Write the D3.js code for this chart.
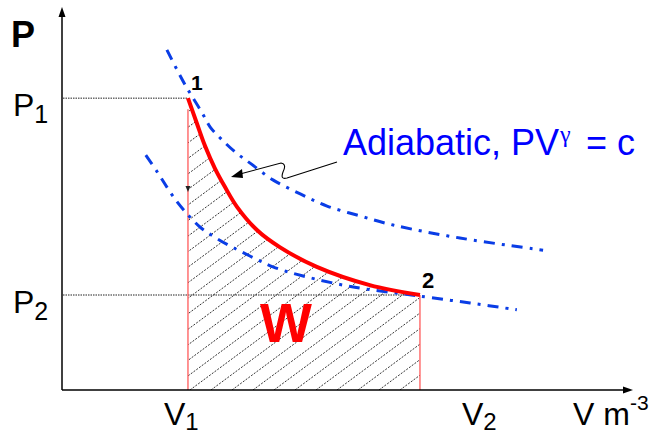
<!DOCTYPE html>
<html><head><meta charset="utf-8">
<script src="https://cdn.jsdelivr.net/npm/d3@7"></script>
<style>html,body{margin:0;padding:0;background:#fff;}svg{display:block;}</style>
</head><body>
<svg id="c" width="653" height="436"></svg>
<script>
// ---- data (arbitrary V / P units) ----
const stateNames = ["1", "2"];
const stateV = [2.21, 6.28];
const stateP = [7.68, 2.50];
const vTickLabels = ["V", "V"], vTickSubs = ["1", "2"];
const pTickLabels = ["P", "P"], pTickSubs = ["1", "2"];

const processV = [2.21, 2.37, 2.51, 2.68, 2.86, 3.07, 3.42, 3.82, 4.47, 5.40, 6.28];
const processP = [7.68, 7.00, 6.42, 5.84, 5.34, 4.82, 4.21, 3.76, 3.24, 2.76, 2.50];

const upperV = [1.84, 2.02, 2.16, 2.30, 2.46, 2.60, 2.79, 3.04, 3.30, 3.70, 4.18, 4.65, 5.23, 5.81, 6.98, 8.44];
const upperP = [8.95, 8.42, 8.03, 7.68, 7.29, 6.92, 6.61, 6.26, 5.97, 5.53, 5.16, 4.84, 4.58, 4.34, 4.00, 3.68];

const lowerV = [1.47, 1.67, 1.84, 2.02, 2.21, 2.42, 2.65, 2.91, 3.16, 3.44, 3.70, 4.23, 5.11, 5.98, 6.28, 7.16, 7.98];
const lowerP = [6.18, 5.74, 5.34, 4.95, 4.61, 4.29, 4.05, 3.82, 3.63, 3.42, 3.24, 3.00, 2.71, 2.53, 2.47, 2.29, 2.11];

// ---- drawing ----
const svg = d3.select("#c");
const FONT = "'Liberation Sans', Arial, sans-serif";
const x = d3.scaleLinear().domain([0, 10]).range([62, 632]);
const y = d3.scaleLinear().domain([0, 10]).range([390, 10]);
const zip = (a, b) => a.map((v, i) => [v, b[i]]);
const line = d3.line().x(d => x(d[0])).y(d => y(d[1])).curve(d3.curveCatmullRom.alpha(0.5));

const proc = zip(processV, processP);
const upper = zip(upperV, upperP);
const lower = zip(lowerV, lowerP);

// hatched work area
const area = d3.area().x(d => x(d[0])).y0(y(0)).y1(d => y(d[1])).curve(d3.curveCatmullRom.alpha(0.5));
const defs = svg.append("defs");
defs.append("clipPath").attr("id", "wclip").append("path").attr("d", area(proc));
const hg = svg.append("g").attr("clip-path", "url(#wclip)");
const slope = 0.74, step = 21;
d3.range(-20, 30).forEach(k => {
  const x0 = x(stateV[0]) + 2 + k * step;
  hg.append("line").attr("x1", x0).attr("y1", y(0)).attr("x2", x0 + 600).attr("y2", y(0) - slope * 600)
    .attr("stroke", "#000").attr("stroke-width", 0.8).attr("stroke-dasharray", "2,1.4");
});

// dotted guides for P1, P2
stateV.forEach((v, i) => {
  svg.append("line").attr("x1", x(0) + 1).attr("x2", x(v)).attr("y1", y(stateP[i])).attr("y2", y(stateP[i]))
    .attr("stroke", "#222").attr("stroke-width", 1).attr("stroke-dasharray", "1.5,1");
});

// red vertical lines at V1, V2
svg.append("line").attr("x1", x(stateV[0])).attr("x2", x(stateV[0])).attr("y1", y(stateP[0]) + 11).attr("y2", y(0))
  .attr("stroke", "#ff5a5a").attr("stroke-width", 1.3);
svg.append("line").attr("x1", x(stateV[1])).attr("x2", x(stateV[1])).attr("y1", y(stateP[1])).attr("y2", y(0))
  .attr("stroke", "#ff5a5a").attr("stroke-width", 1.3);
// tiny arrowhead on V1 line
{
  const ax = x(stateV[0]), ay = 192;
  svg.append("path").attr("d", `M${ax - 2.5},${ay - 6} L${ax + 2.5},${ay - 6} L${ax},${ay} Z`).attr("fill", "#222");
}

// adiabats
[upper, lower].forEach(d => {
  svg.append("path").attr("d", line(d)).attr("fill", "none").attr("stroke", "#0a3de6")
    .attr("stroke-width", 3).attr("stroke-dasharray", "11,7,3,7");
});

// process curve
svg.append("path").attr("d", line(proc)).attr("fill", "none").attr("stroke", "#ff0000").attr("stroke-width", 4);

// axes
svg.append("line").attr("x1", x(0)).attr("x2", x(0)).attr("y1", y(0)).attr("y2", 16).attr("stroke", "#000").attr("stroke-width", 1.5);
svg.append("path").attr("d", `M${x(0)},7 L${x(0) - 3.5},17 L${x(0) + 3.5},17 Z`).attr("fill", "#000");
svg.append("line").attr("x1", x(0)).attr("x2", 624).attr("y1", y(0)).attr("y2", y(0)).attr("stroke", "#000").attr("stroke-width", 1.5);
svg.append("path").attr("d", `M633,${y(0)} L623,${y(0) - 3.5} L623,${y(0) + 3.5} Z`).attr("fill", "#000");

// axis titles
svg.append("text").attr("x", 11).attr("y", 47).attr("font-family", FONT).attr("font-weight", "bold").attr("font-size", 36).text("P");
const vt = svg.append("text").attr("x", 573).attr("y", 425).attr("font-family", FONT).attr("font-size", 32);
vt.append("tspan").text("V m");
vt.append("tspan").attr("font-size", 21).attr("dy", -15).text("-3");

// tick labels
pTickLabels.forEach((t, i) => {
  const tt = svg.append("text").attr("x", 13).attr("y", y(stateP[i]) + 18).attr("font-family", FONT).attr("font-size", 32);
  tt.append("tspan").text(t);
  tt.append("tspan").attr("font-size", 25).attr("dy", 7).text(pTickSubs[i]);
});
const vLabelShift = [-24, 42];
vTickLabels.forEach((t, i) => {
  const tt = svg.append("text").attr("x", x(stateV[i]) + vLabelShift[i]).attr("y", 425).attr("font-family", FONT).attr("font-size", 32);
  tt.append("tspan").text(t);
  tt.append("tspan").attr("font-size", 24).attr("dy", 5).text(vTickSubs[i]);
});

// state labels
svg.append("text").attr("x", x(stateV[0]) + 3).attr("y", y(stateP[0]) - 8).attr("font-family", FONT)
  .attr("font-weight", "bold").attr("font-size", 21).text(stateNames[0]);
svg.append("text").attr("x", x(stateV[1]) + 2).attr("y", y(stateP[1]) - 7).attr("font-family", FONT)
  .attr("font-weight", "bold").attr("font-size", 22).text(stateNames[1]);

// W label
svg.append("text").attr("x", 260).attr("y", 342).attr("font-family", FONT).attr("font-weight", "bold")
  .attr("font-size", 55).attr("fill", "#ff0000").text("W");

// annotation
svg.append("text").attr("x", 343).attr("y", 155).attr("font-family", FONT).attr("font-size", 36).attr("fill", "#0000ff").text("Adiabatic, PV");
svg.append("text").attr("x", 560).attr("y", 142).attr("font-family", "'Liberation Serif', 'Times New Roman', serif").attr("font-size", 24).attr("fill", "#0000ff").text("γ");
svg.append("text").attr("x", 586).attr("y", 155).attr("font-family", FONT).attr("font-size", 36).attr("fill", "#0000ff").text("= c");

// squiggly arrow
svg.append("path").attr("d", "M337,162 L287,178 Q280,180 283,172 Q287,164 281,163 L240,174")
  .attr("fill", "none").attr("stroke", "#000").attr("stroke-width", 1.1);
svg.append("path").attr("d", "M231,177 L242,169 L243,178 Z").attr("fill", "#000");
</script>
</body></html>
